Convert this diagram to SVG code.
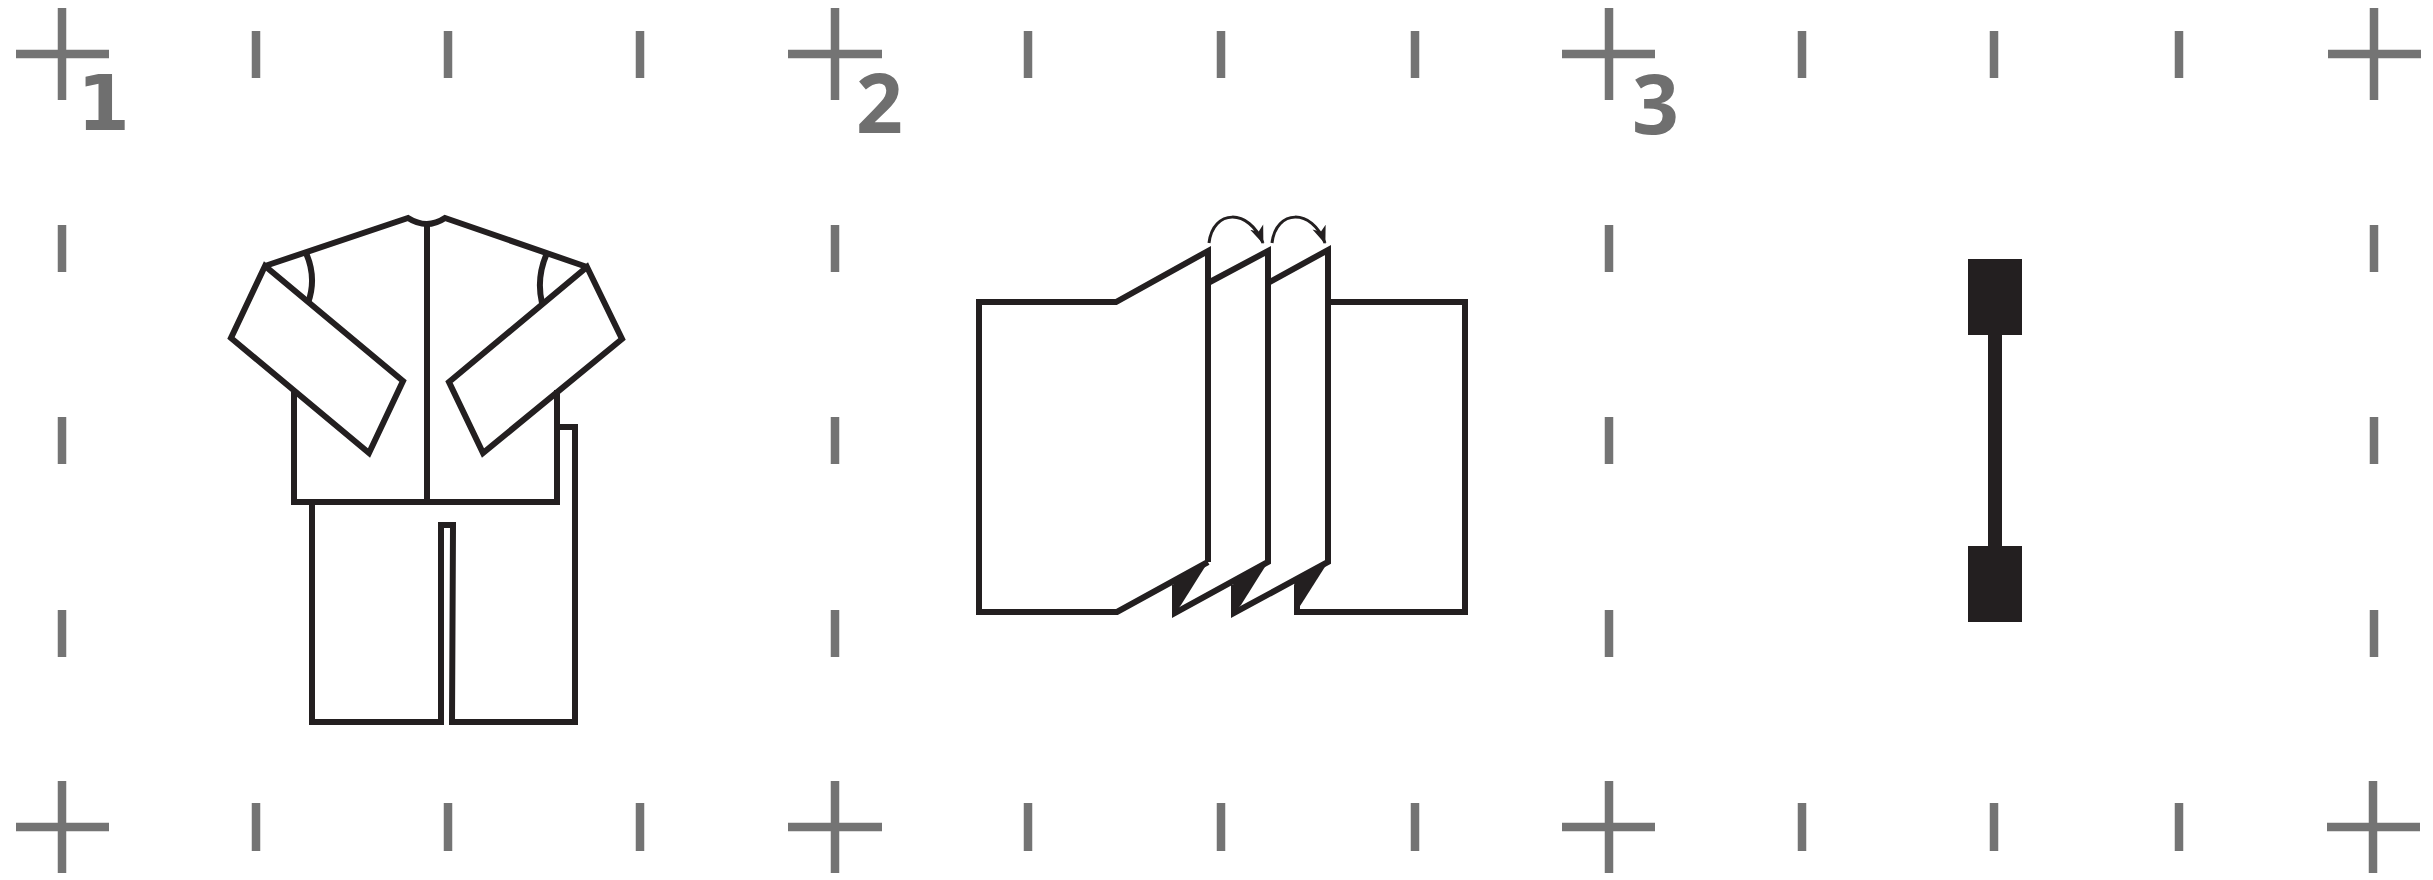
<svg xmlns="http://www.w3.org/2000/svg" width="2433" height="880" viewBox="0 0 2433 880">
<style>
.m{stroke:#747474;stroke-width:8.5;fill:none}
.l{stroke:#231f20;stroke-width:6;fill:none;stroke-linejoin:miter}
.f{fill:#231f20;stroke:none}
.a{fill:none;stroke:#231f20;stroke-width:3}
.n{font-family:"Open Sans",sans-serif;font-weight:700;font-size:82px;fill:#6f6f6f}
.o{font-family:"DejaVu Sans",sans-serif;font-weight:700;font-size:76px;fill:#6f6f6f}
</style>
<defs>
<marker id="ah" markerUnits="userSpaceOnUse" markerWidth="20" markerHeight="18" refX="17" refY="9" orient="auto"><path d="M0 2L18 9L0 16L5 9Z" fill="#231f20"/></marker>
</defs>
<rect width="2433" height="880" fill="#fff"/>
<g id="registration-marks">
<path class="m" d="M16 54H109M62 8V100M788 54H882M835 8V100M1562 54H1655M1609 8V100M2328 54H2421M2374 8V100M16 827H109M62 781V873M788 827H882M835 781V873M1562 827H1655M1609 781V873M2327 827H2420M2373 781V873"/>
<path class="m" d="M256 31V78M448 31V78M640 31V78M1028 31V78M1221 31V78M1415 31V78M1802 31V78M1994 31V78M2179 31V78M256 803V851M448 803V851M640 803V851M1028 803V851M1221 803V851M1415 803V851M1802 803V851M1994 803V851M2179 803V851"/>
<path class="m" d="M62 225V272M62 417V464M62 610V657M835 225V272M835 417V464M835 610V657M1609 225V272M1609 417V464M1609 610V657M2374 225V272M2374 417V464M2374 610V657"/>
</g>
<g id="labels">
<text class="o" x="77" y="130">1</text>
<text class="n" x="856" y="133">2</text>
<text class="n" x="1632" y="134">3</text>
</g>
<g id="garment">
<path class="l" d="M559 427H575V722H452L453 525H441V722H312V502"/>
<path class="l" d="M294 392V502H557V390"/>
<path class="l" d="M427 222V502"/>
<path class="l" d="M265 266L408 218Q427 230 445 218L587 267"/>
<path class="l" d="M306 253Q317 278 308 303"/>
<path class="l" d="M547 253Q536 278 542 303"/>
<path class="l" d="M265 266L231 338L369 453L403 381Z"/>
<path class="l" d="M587 267L622 339L483 453L449 382Z"/>
</g>
<g id="folded-sheet">
<path class="l" d="M1208 562V251L1116 302H979V612H1117L1208 562"/>
<path class="l" d="M1208 283L1268 251V562L1175 613V585"/>
<path class="l" d="M1268 283L1328 250V562L1234 613V585"/>
<path class="l" d="M1328 302H1465V612H1297V585"/>
<path class="f" d="M1173 581L1208 562L1181 605L1175 613Z"/>
<path class="f" d="M1233 581L1268 562L1241 605L1234 613Z"/>
<path class="f" d="M1294 581L1328 562L1302 603L1296 612Z"/>
</g>
<g id="connectors">
<path class="a" d="M1209 243C1213 209 1249 208 1263 243" marker-end="url(#ah)"/>
<path class="a" d="M1272 243C1276 209 1312 208 1325 243" marker-end="url(#ah)"/>
</g>
<g id="bar-tack">
<rect class="f" x="1968" y="259" width="54" height="76"/>
<rect class="f" x="1988" y="335" width="14" height="211"/>
<rect class="f" x="1968" y="546" width="54" height="76"/>
</g>
</svg>
